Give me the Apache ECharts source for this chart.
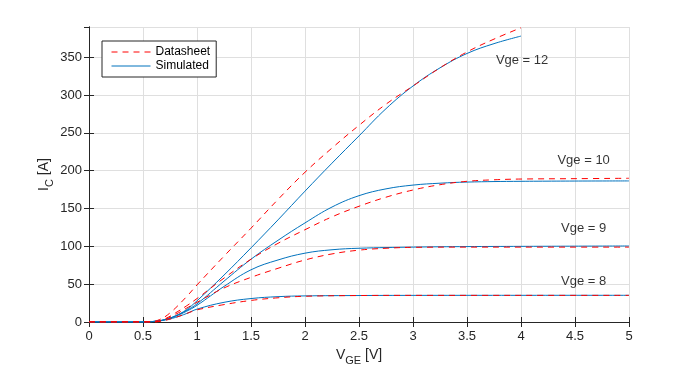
<!DOCTYPE html>
<html>
<head>
<meta charset="utf-8">
<script src="https://cdn.jsdelivr.net/npm/echarts@6/dist/echarts.min.js"></script>
<style>html,body{margin:0;padding:0;background:#fff}#c{width:695px;height:371px}</style>
</head>
<body>
<div id="c"></div>
<script>
// Datasheet curves [V_GE, I_C]
const ds12 = [[0,0],[0.55,0],[0.65,3],[0.75,12],[0.9,33],[1,49],[1.25,87],[1.5,124],[1.75,162],[2,198],[2.25,230],[2.5,260],[2.75,288],[3,312],[3.25,336],[3.5,357],[3.75,374],[4,389]];
const ds10 = [[0,0],[0.6,0],[0.7,4],[0.8,12],[0.9,21],[1,31],[1.25,58],[1.5,83],[1.75,104],[2,122],[2.25,139],[2.5,153],[2.75,165],[3,174.5],[3.25,181.5],[3.5,186],[3.75,188],[4,189],[4.5,189.5],[5,190]];
const ds9 = [[0,0],[0.6,0],[0.7,3.5],[0.8,10],[0.9,18],[1,26],[1.25,45],[1.5,59],[1.75,71],[2,82],[2.25,90],[2.5,95],[2.75,97.5],[3,98.7],[3.5,99],[4,99],[5,99]];
const ds8 = [[0,0],[0.6,0],[0.7,2],[0.8,6],[0.9,11],[1,16],[1.25,23],[1.5,28.5],[1.75,32],[2,34],[2.5,35],[3,35.2],[5,35.2]];
// Simulated curves
const sim12 = [[0,0],[0.5,0],[0.6,0.8],[0.7,3],[0.8,8],[0.9,16],[1,28],[1.25,62],[1.5,98],[1.75,135],[2,173],[2.25,210],[2.5,246],[2.75,282],[3,312],[3.25,336],[3.5,355],[3.75,368],[4,378]];
const sim10 = [[0,0],[0.5,0],[0.6,0.8],[0.7,3],[0.8,8],[0.9,15],[1,24],[1.25,54],[1.5,83],[1.75,108],[2,131],[2.25,152],[2.5,167],[2.75,176],[3,181],[3.25,183.5],[3.5,185],[4,186],[5,186.5]];
const sim9 = [[0,0],[0.5,0],[0.6,0.8],[0.7,3],[0.8,7.5],[0.9,14],[1,22],[1.25,47],[1.5,69],[1.75,82],[2,91],[2.25,95.5],[2.5,97.5],[3,99],[3.5,99.7],[4,100],[5,100.5]];
const sim8 = [[0,0],[0.5,0],[0.6,0.6],[0.7,2.5],[0.8,6],[0.9,11],[1,17],[1.25,26],[1.5,31],[1.75,33.5],[2,34.5],[2.5,35],[3,35.2],[5,35.3]];
// Curve annotations [x, y, text]
const annotations = [[4.01,346,'Vge = 12'],[4.58,213,'Vge = 10'],[4.58,124,'Vge = 9'],[4.58,53,'Vge = 8']];
const legendNames = ['Datasheet','Simulated'];

const FONT = '"Liberation Sans", Arial, Helvetica, sans-serif';
const TXT = '#262626';
const RED = '#ff0000', BLUE = '#0072bd';

function dsSeries(d){ return {name:'Datasheet',type:'line',data:d,showSymbol:false,symbol:'none',smooth:0.4,
  lineStyle:{color:RED,width:1,type:[6,5]},itemStyle:{color:RED},z:3,silent:true}; }
function simSeries(d){ return {name:'Simulated',type:'line',data:d,showSymbol:false,symbol:'none',smooth:0.4,
  lineStyle:{color:BLUE,width:1},itemStyle:{color:BLUE},z:2,silent:true}; }

const chart = echarts.init(document.getElementById('c'), null, {renderer:'canvas'});
chart.setOption({
  animation:false,
  backgroundColor:'#fff',
  textStyle:{fontFamily:FONT},
  grid:{left:89,right:66,top:27,bottom:49,containLabel:false},
  legend:{
    data:legendNames, orient:'vertical', left:102, top:41,
    itemWidth:39, itemHeight:14, itemGap:2,
    padding:[5,6,5,9], borderColor:TXT, borderWidth:1, backgroundColor:'#fff',
    itemStyle:{opacity:0}, lineStyle:{width:1},
    textStyle:{fontFamily:FONT,fontSize:12,color:'#000'}, selectedMode:false
  },
  xAxis:[{
    type:'value', min:0, max:5, interval:0.5,
    name:'{a|V}{b|GE}{a| [V]}', nameLocation:'middle', nameGap:23, nameMoveOverlap:false,
    nameTextStyle:{rich:{a:{fontFamily:FONT,fontSize:14,color:TXT},b:{fontFamily:FONT,fontSize:11,color:TXT,padding:[10,0,0,0]}}},
    axisLine:{show:true,lineStyle:{color:TXT,width:1}},
    axisTick:{show:true,inside:true,length:5,lineStyle:{color:TXT}},
    axisLabel:{fontFamily:FONT,fontSize:13,color:TXT,margin:8},
    splitLine:{show:true,lineStyle:{color:'#dfdfdf',width:1}}
  },{
    type:'value', min:0, max:5, interval:0.5, position:'top',
    axisLine:{show:true,lineStyle:{color:TXT,width:1}},
    axisTick:{show:true,inside:true,length:5,lineStyle:{color:TXT}},
    axisLabel:{show:false}, splitLine:{show:false}
  }],
  yAxis:[{
    type:'value', min:0, max:390, interval:50,
    name:'{a|I}{b|C}{a| [A]}', nameLocation:'middle', nameGap:34, nameRotate:90, nameMoveOverlap:false,
    nameTextStyle:{rich:{a:{fontFamily:FONT,fontSize:14,color:TXT},b:{fontFamily:FONT,fontSize:11,color:TXT,padding:[10,0,0,0]}}},
    axisLine:{show:true,lineStyle:{color:TXT,width:1}},
    axisTick:{show:true,inside:true,length:5,lineStyle:{color:TXT}},
    axisLabel:{fontFamily:FONT,fontSize:13,color:TXT,margin:7,showMaxLabel:false},
    splitLine:{show:true,lineStyle:{color:'#dfdfdf',width:1}}
  },{
    type:'value', min:0, max:390, interval:50, position:'right',
    axisLine:{show:true,lineStyle:{color:TXT,width:1}},
    axisTick:{show:true,inside:true,length:5,lineStyle:{color:TXT}},
    axisLabel:{show:false}, splitLine:{show:false}
  }],
  series:[
    simSeries(sim12), simSeries(sim10), simSeries(sim9), simSeries(sim8),
    dsSeries(ds12), dsSeries(ds10), dsSeries(ds9), dsSeries(ds8),
    {type:'scatter', name:'annot', symbolSize:0, silent:true, z:5,
     data:annotations.map(a=>({value:[a[0],a[1]],name:a[2]})),
     label:{show:true,position:'inside',formatter:p=>p.name,fontFamily:FONT,fontSize:13,color:'#000'}}
  ]
});
</script>
</body>
</html>
